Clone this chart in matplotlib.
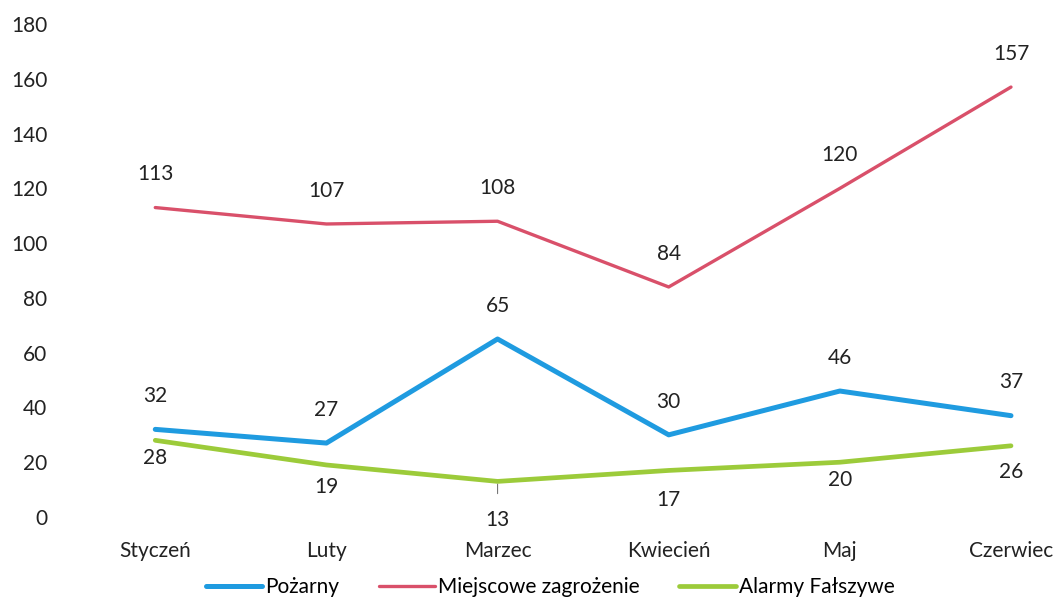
import matplotlib.pyplot as plt

months = ["Styczeń", "Luty", "Marzec", "Kwiecień", "Maj", "Czerwiec"]
pozarny = [32, 27, 65, 30, 46, 37]
miejscowe = [113, 107, 108, 84, 120, 157]
falszywe = [28, 19, 13, 17, 20, 26]

plt.rcParams['font.family'] = ['Lato', 'DejaVu Sans']

fig = plt.figure(figsize=(10.56, 6.02), dpi=100)
ax = fig.add_axes([0.066, 0.1412, 0.934, 0.8188])

x = list(range(len(months)))
blue = '#1f9be0'
red = '#d9506a'
green = '#9ccb3a'
fs = 15

ax.plot(x, pozarny, color=blue, lw=3.6, solid_capstyle='round', label='Pożarny')
ax.plot(x, miejscowe, color=red, lw=2.4, solid_capstyle='round', label='Miejscowe zagrożenie')
ax.plot(x, falszywe, color=green, lw=3.4, solid_capstyle='round', label='Alarmy Fałszywe')

# labels: blue and red above, green below
for i, v in enumerate(pozarny):
    ax.annotate(str(v), (i, v), xytext=(0, 24), textcoords='offset points',
                ha='center', va='center', fontsize=fs, color='#222222')
for i, v in enumerate(miejscowe):
    ax.annotate(str(v), (i, v), xytext=(0, 24), textcoords='offset points',
                ha='center', va='center', fontsize=fs, color='#222222')
green_off = [-13, -16, -28, -21, -13, -19]
for i, v in enumerate(falszywe):
    if i == 2:
        ax.annotate(str(v), (i, v), xytext=(0, green_off[i]), textcoords='offset points',
                    ha='center', va='center', fontsize=fs, color='#222222',
                    arrowprops=dict(arrowstyle='-', color='#777777', lw=0.8,
                                    shrinkA=10, shrinkB=2))
    else:
        ax.annotate(str(v), (i, v), xytext=(0, green_off[i]), textcoords='offset points',
                    ha='center', va='center', fontsize=fs, color='#222222')

ax.set_xlim(-0.5, 5.263)
ax.set_ylim(0, 180)
ax.set_yticks(range(0, 181, 20))
ax.set_xticks(x)
ax.set_xticklabels(months)
ax.tick_params(length=0, labelsize=fs, colors='#222222')
ax.tick_params(axis='y', pad=16)
ax.tick_params(axis='x', pad=17)
for s in ax.spines.values():
    s.set_visible(False)

fig.legend(loc='center', bbox_to_anchor=(0.521, 0.025), ncol=3, frameon=False,
           fontsize=fs, handlelength=2.7, handletextpad=0.15, columnspacing=1.9)

fig.savefig('out.png', dpi=100)
